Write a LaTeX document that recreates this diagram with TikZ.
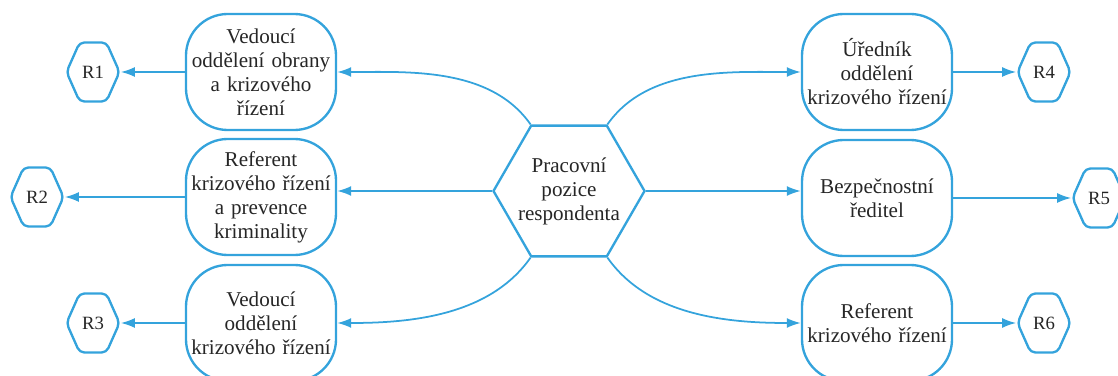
\documentclass[tikz,border=0pt]{standalone}
\usepackage{fontspec}
\setmainfont{Liberation Serif}
\usetikzlibrary{arrows.meta,shapes.geometric,shapes.symbols}
\definecolor{modra}{RGB}{52,163,220}
\begin{document}
\begin{tikzpicture}[x=0.03cm, y=-0.03cm, >={Latex[length=12pt,width=8.5pt]},
	font=\fontsize{18}{20.5}\selectfont, text=black!85,
	pozice/.style={draw=modra, line width=2pt, rounded corners=1.25cm, minimum width=4.5cm, minimum height=3.48cm, text width=4.4cm, align=center, inner sep=0pt},
	resp/.style={draw=modra, line width=2pt, signal, signal to=west and east, signal pointer angle=132, minimum width=1.59cm, minimum height=1.77cm, rounded corners=4pt, inner sep=0pt, font=\fontsize{16}{18}\selectfont},
	sipka/.style={modra, line width=1.5pt, ->}]
	\clip (0,0) rectangle (1118,376);
	% stred
	\node[draw=modra, line width=2pt, regular polygon, regular polygon sides=6, minimum size=4.44cm, align=center, inner sep=-4pt] (pp) at (569,191) {Pracovní\\pozice\\respondenta};
	% pozice
	\node[pozice] (v1) at (261,72) {Vedoucí\\oddělení obrany\\a krizového\\řízení};
	\node[pozice] (v2) at (261,197) {Referent\\krizového řízení\\a prevence\\kriminality};
	\node[pozice] (v3) at (261,323) {Vedoucí\\oddělení\\krizového řízení};
	\node[pozice] (v4) at (877,72) {Úředník\\oddělení\\krizového řízení};
	\node[pozice] (v5) at (877,198) {Bezpečnostní\\ředitel};
	\node[pozice] (v6) at (877,323) {Referent\\krizového řízení};
	% respondenti
	\node[resp] (r1) at (93,72) {R1};
	\node[resp] (r2) at (37,197) {R2};
	\node[resp] (r3) at (93,323) {R3};
	\node[resp] (r4) at (1044,72) {R4};
	\node[resp] (r5) at (1099,198) {R5};
	\node[resp] (r6) at (1044,323) {R6};
	% spojnice
	\draw[sipka] (pp.120) to[out=125, in=0, looseness=0.9] (v1.east);
	\draw[sipka] (pp.west) -- (pp.west -| v2.east);
	\draw[sipka] (pp.240) to[out=235, in=0, looseness=0.9] (v3.east);
	\draw[sipka] (pp.60) to[out=55, in=180, looseness=0.9] (v4.west);
	\draw[sipka] (pp.east) -- (pp.east -| v5.west);
	\draw[sipka] (pp.300) to[out=305, in=180, looseness=0.9] (v6.west);
	\draw[sipka] (v1.west) -- (r1.east);
	\draw[sipka] (v2.west) -- (r2.east);
	\draw[sipka] (v3.west) -- (r3.east);
	\draw[sipka] (v4.east) -- (r4.west);
	\draw[sipka] (v5.east) -- (r5.west);
	\draw[sipka] (v6.east) -- (r6.west);
\end{tikzpicture}
\end{document}
